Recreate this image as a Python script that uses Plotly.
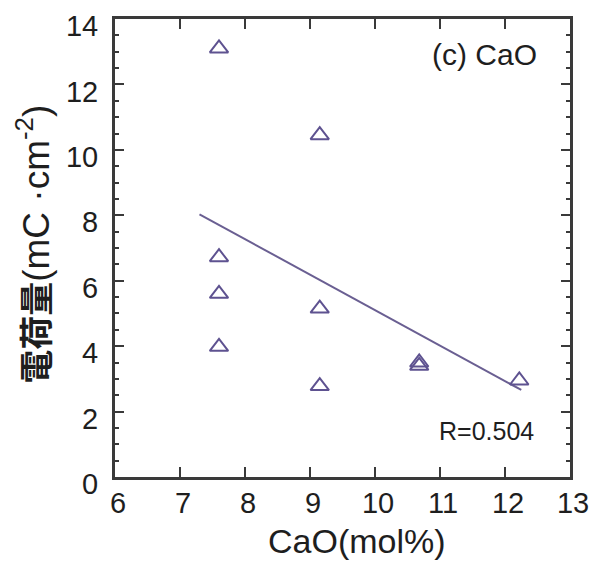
import plotly.graph_objects as go

# Data
cao = [7.6, 7.6, 7.6, 7.6, 9.15, 9.15, 9.15, 10.68, 10.68, 12.22]
charge = [13.1, 6.72, 5.6, 3.98, 10.45, 5.15, 2.78, 3.5, 3.4, 2.95]
fit_x = [7.3, 12.25]
fit_y = [8.03, 2.66]

x_ticks = [6, 7, 8, 9, 10, 11, 12, 13]
y_ticks = [0, 2, 4, 6, 8, 10, 12, 14]

mark_color = "#5e5290"
axis_color = "#3a3a3a"
font_main = "Liberation Sans, Arial, Noto Sans CJK JP, sans-serif"

fig = go.Figure()
fig.add_trace(go.Scatter(
    x=fit_x, y=fit_y, mode="lines",
    line=dict(color="#6a5f92", width=2), showlegend=False, hoverinfo="skip"))
fig.add_trace(go.Scatter(
    x=cao, y=charge, mode="markers",
    marker=dict(symbol="triangle-up-open", size=16, color=mark_color,
                line=dict(color=mark_color, width=2)),
    showlegend=False))

fig.update_layout(
    width=600, height=557,
    margin=dict(l=107, r=38, t=11, b=88),
    paper_bgcolor="white", plot_bgcolor="white",
    font=dict(family=font_main, color="#1e1e1e", size=29),
    xaxis=dict(range=[6, 13], tickvals=x_ticks, ticks="inside", ticklen=10,
               tickwidth=2, tickcolor=axis_color, showline=True, linewidth=3,
               linecolor=axis_color, mirror="ticks", showgrid=False, zeroline=False,
               tickfont=dict(size=29), ticklabelstandoff=-2, ticklabelshift=3,
               ticklabeloverflow="allow", automargin=False),
    yaxis=dict(range=[0, 14], tickvals=y_ticks, ticks="inside", ticklen=9,
               tickwidth=2, tickcolor=axis_color, showline=True, linewidth=3,
               linecolor=axis_color, mirror="ticks", showgrid=False, zeroline=False,
               tickfont=dict(size=29), ticklabelstandoff=8, ticklabelshift=7,
               ticklabeloverflow="allow", automargin=False,
               minor=dict(dtick=0.5, ticks="inside", ticklen=4, tickwidth=2,
                          tickcolor=axis_color, showgrid=False)),
    annotations=[
        dict(text="CaO(mol%)", xref="paper", yref="paper", x=0.532, y=-0.14,
             showarrow=False, font=dict(size=34, color="#1e1e1e"),
             xanchor="center", yanchor="middle"),
        dict(text="<b>電荷量</b><span style='font-size:37px'>(mC ·cm<sup>-2</sup>)</span>",
             xref="paper", yref="paper",
             x=-0.178, y=0.507, textangle=-90, showarrow=False,
             font=dict(size=34, color="#1e1e1e"), xanchor="center", yanchor="middle"),
        dict(text="(c) CaO", xref="x", yref="y", x=11.68, y=12.9, showarrow=False,
             font=dict(size=30, color="#1e1e1e"), xanchor="center", yanchor="middle"),
        dict(text="R=0.504", xref="x", yref="y", x=11.72, y=1.41, showarrow=False,
             font=dict(size=25, color="#1e1e1e"), xanchor="center", yanchor="middle"),
    ],
)

fig.write_html("out.html")
